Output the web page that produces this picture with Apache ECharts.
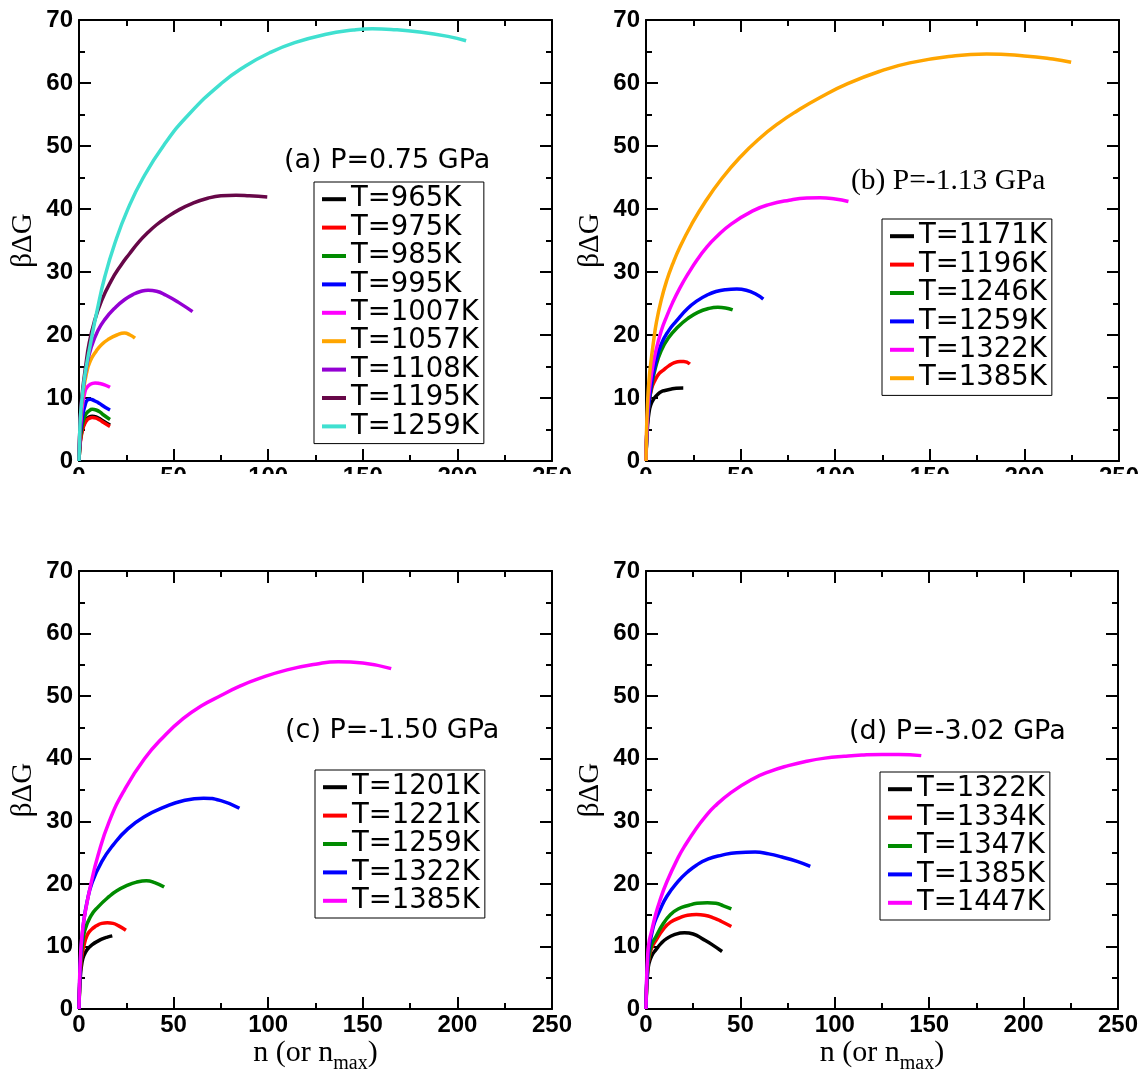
<!DOCTYPE html>
<html>
<head>
<meta charset="utf-8">
<script src="https://cdn.jsdelivr.net/npm/echarts@6/dist/echarts.min.js"></script>
<style>html,body{margin:0;padding:0;background:#fff;}#c{width:1144px;height:1075px;}</style>
</head>
<body>
<div id="c"></div>
<script>
// ---------- DATA ----------
const xTicks = [0, 50, 100, 150, 200, 250];
const yTicks = [0, 10, 20, 30, 40, 50, 60, 70];

const panelTitles = ['(a) P=0.75 GPa', '(b) P=-1.13 GPa', '(c) P=-1.50 GPa', '(d) P=-3.02 GPa'];

// Panel (a)  P=0.75 GPa
const aNames = ['T=965K', 'T=975K', 'T=985K', 'T=995K', 'T=1007K', 'T=1057K', 'T=1108K', 'T=1195K', 'T=1259K'];
const a965 = [[0,0],[0.5,2.5],[1,3.8],[2,5.3],[3,6.1],[4,6.6],[5,6.9],[7,7.1],[9,7.0],[11,6.7],[13,6.3],[16.4,5.7]];
const a975 = [[0,0],[0.5,2.4],[1,3.6],[2,5.1],[3,5.9],[4,6.4],[5,6.7],[7,6.9],[9,6.8],[11,6.5],[13,6.1],[16.4,5.5]];
const a985 = [[0,0],[0.5,2.8],[1,4.3],[2,6.0],[3,7.0],[4,7.6],[5,7.9],[7,8.2],[9,8.1],[11,7.8],[13,7.3],[16.4,6.6]];
const a995 = [[0,0],[0.5,3.5],[1,5.2],[2,7.3],[3,8.6],[4.5,9.7],[6,9.8],[8,9.6],[10,9.3],[12,8.9],[14,8.5],[16.4,8.1]];
const a1007 = [[0,0],[0.5,4.2],[1,6.3],[2,9.2],[3,10.8],[4,11.6],[6,12.2],[8.5,12.4],[11,12.3],[13.5,12.1],[16.4,11.7]];
const a1057 = [[0,0],[0.5,5],[1,7.5],[2,10.5],[4,14],[6,15.9],[9,17.4],[12,18.5],[16,19.4],[20,20.0],[24,20.3],[27,20.0],[29.6,19.5]];
const a1108 = [[0,0],[0.5,5.5],[1,8],[2,11],[4,15],[6.2,17.8],[10,20.7],[14,22.6],[19,24.3],[24,25.6],[29,26.5],[33,26.95],[36.5,27.1],[41,26.95],[46,26.3],[53,25.1],[60,23.7]];
const a1195 = [[0,0],[0.5,5.5],[1,8.3],[2,11.5],[3.5,15],[5.3,18.6],[8,22],[12,25.5],[17,28.6],[22,31],[26.7,32.9],[32,34.9],[36.5,36.3],[41,37.5],[46,38.6],[53,39.9],[60,40.9],[68,41.7],[75,42.1],[83,42.2],[90,42.1],[99.5,41.9]];
const a1259 = [[0,0],[0.5,5.5],[1,8],[1.8,10.5],[3.3,14],[6.5,19.3],[9.5,23.8],[13.6,29.2],[19,34.6],[25.7,39.9],[34,45],[45,50.2],[58,55],[75.5,60],[88,62.7],[100.8,64.8],[114,66.4],[130,67.7],[145,68.4],[155,68.6],[165,68.5],[180,68.1],[195,67.4],[204.6,66.7]];

// Panel (b)  P=-1.13 GPa
const bNames = ['T=1171K', 'T=1196K', 'T=1246K', 'T=1259K', 'T=1322K', 'T=1385K'];
const b1171 = [[0,0],[0.3,3],[0.8,5.5],[1.5,7.5],[2.5,8.9],[4.2,9.9],[6,10.5],[8,11.0],[10,11.2],[13,11.4],[16,11.55],[19.7,11.6]];
const b1196 = [[0,0],[0.3,3.5],[0.8,6.5],[1.5,9],[3,11.5],[4.9,12.9],[7,13.9],[9,14.4],[12,15.1],[15,15.6],[18,15.8],[20,15.8],[23.2,15.4]];
const b1246 = [[0,0],[0.3,3.5],[0.8,6.5],[1.5,9],[3,12],[5,14.8],[8,17.5],[12,19.6],[17,21.3],[22,22.6],[27.4,23.6],[33,24.2],[38,24.4],[42,24.3],[45.8,24.0]];
const b1259 = [[0,0],[0.3,3.5],[0.8,6.5],[1.5,9],[3,12.5],[5,15.5],[8,18.5],[12,20.7],[16,22.2],[22,24.2],[27.4,25.5],[32,26.3],[37,26.9],[42,27.2],[48,27.3],[53,27.1],[58,26.5],[62,25.7]];
const b1322 = [[0,0],[0.3,4],[0.8,7.5],[1.5,10.5],[3,14],[5,17.2],[8,20.6],[11,23.0],[14,25.1],[17.8,27.4],[22,29.6],[27.4,32.1],[32,33.9],[37,35.5],[45,37.6],[56.4,39.7],[65,40.7],[75.7,41.4],[85,41.75],[92,41.8],[100,41.6],[107,41.2]];
const b1385 = [[0,0],[0.3,5],[0.8,9],[1.5,12.5],[2.5,15.5],[4,19],[5.5,22],[8,25.5],[11,28.7],[14,31.2],[18,34],[24,37.5],[31,41],[40,44.8],[50,48.3],[60,51.2],[70,53.6],[80,55.6],[92,57.7],[106.6,59.9],[125,62.0],[139.4,63.2],[160,64.2],[180,64.6],[200,64.3],[215,63.8],[224.7,63.3]];

// Panel (c)  P=-1.50 GPa
const cNames = ['T=1201K', 'T=1221K', 'T=1259K', 'T=1322K', 'T=1385K'];
const c1201 = [[0,0],[0.3,3],[0.8,5.5],[1.5,7.3],[2.5,8.5],[4.3,9.5],[7,10.3],[10.2,10.9],[13,11.3],[15,11.5],[17.6,11.7]];
const c1221 = [[0,0],[0.3,3.5],[0.8,6.5],[1.5,8.5],[2.5,10],[4.3,11.8],[6.5,12.7],[9.2,13.3],[12,13.7],[15,13.8],[18,13.7],[21,13.3],[24.8,12.6]];
const c1259 = [[0,0],[0.3,3.5],[0.8,7],[1.5,9.5],[3,12.5],[6.3,14.9],[10,16.3],[16,18.0],[20,18.9],[25.8,19.8],[30,20.25],[35.6,20.5],[40,20.2],[45,19.5]];
const c1322 = [[0,0],[0.3,4],[0.8,8],[1.5,11],[2.5,14],[4.3,17.2],[7,20.3],[12.1,23.6],[18,26.2],[25.8,28.8],[35,30.8],[45.3,32.3],[55,33.3],[65.9,33.7],[75,33.3],[84.8,32.1]];
const c1385 = [[0,0],[0.3,4.5],[0.8,8.5],[1.5,11.5],[3,15],[6.3,20],[10,24.5],[16,30],[24,35],[34.6,40],[45,43.6],[55,46.4],[65,48.5],[75,50.1],[85,51.6],[95,52.8],[110,54.2],[125,55.1],[137,55.5],[150,55.3],[165,54.4]];

// Panel (d)  P=-3.02 GPa
const dNames = ['T=1322K', 'T=1334K', 'T=1347K', 'T=1385K', 'T=1447K'];
const d1322 = [[0,0],[0.3,3],[0.8,5.5],[1.5,7.2],[3,8.5],[5.3,9.5],[8,10.5],[11.1,11.3],[15,11.9],[20.4,12.2],[25,12.0],[30.6,11.1],[35,10.3],[40.3,9.2]];
const d1334 = [[0,0],[0.3,3.5],[0.8,6],[1.5,8],[3,9.8],[5.3,11],[9,12.7],[13,13.9],[18,14.6],[22,15],[26.7,15.1],[31,15],[36.4,14.5],[40,14],[45.2,13.2]];
const d1347 = [[0,0],[0.3,3.5],[0.8,6.2],[1.5,8.3],[3,10.3],[5.3,11.6],[9,13.6],[13,15.1],[17,16],[22.8,16.6],[27,16.9],[32.5,17.0],[37,16.9],[41,16.5],[45.2,16.0]];
const d1385 = [[0,0],[0.3,4],[0.8,7],[1.5,9.5],[3,12],[4.5,13.8],[7.2,15.7],[11,18],[17,20.4],[22,21.9],[26.7,23.0],[33,24],[40.3,24.6],[48,25],[57.8,25.1],[65,24.8],[72,24.3],[80,23.6],[87,22.8]];
const d1447 = [[0,0],[0.3,4.5],[0.8,8],[1.5,10.5],[3,12.5],[5,15],[7.2,17.2],[11,20.3],[17,24.2],[21,26.3],[26.7,28.9],[31,30.6],[36.4,32.4],[45,34.6],[56,36.7],[65,37.9],[75.4,38.9],[85,39.6],[94.8,40.1],[105,40.4],[114.3,40.6],[125,40.7],[133.8,40.7],[145.8,40.5]];

// ---------- STYLE / LAYOUT ----------
const C = {black:'#000000', red:'#ff0000', green:'#008b00', blue:'#0000ff', magenta:'#ff00ff', orange:'#ffa500', violet:'#9400d3', maroon:'#670748', turq:'#40e0d0'};
const panels = [
  {key:'a', names:aNames, data:[a965,a975,a985,a995,a1007,a1057,a1108,a1195,a1259],
   colors:[C.black,C.red,C.green,C.blue,C.magenta,C.orange,C.violet,C.maroon,C.turq],
   grid:{left:79, top:20, width:473, height:441}, xName:false,
   title:{left:284, top:147, serif:false}, legend:{left:314, top:182}},
  {key:'b', names:bNames, data:[b1171,b1196,b1246,b1259,b1322,b1385],
   colors:[C.black,C.red,C.green,C.blue,C.magenta,C.orange],
   grid:{left:646, top:20, width:473, height:441}, xName:false,
   title:{left:851, top:166, serif:true}, legend:{left:882, top:219}},
  {key:'c', names:cNames, data:[c1201,c1221,c1259,c1322,c1385],
   colors:[C.black,C.red,C.green,C.blue,C.magenta],
   grid:{left:79, top:571, width:473, height:440}, xName:true,
   title:{left:285, top:717, serif:false}, legend:{left:315, top:770}},
  {key:'d', names:dNames, data:[d1322,d1334,d1347,d1385,d1447],
   colors:[C.black,C.red,C.green,C.blue,C.magenta],
   grid:{left:646, top:571, width:472, height:440}, xName:true,
   title:{left:849, top:718, serif:false}, legend:{left:880, top:772}}
];

const SANS = '"Liberation Sans", Arial, Helvetica, sans-serif';
const WIDE = '"DejaVu Sans", "Liberation Sans", sans-serif';
const SERIF = '"Liberation Serif", "Times New Roman", Times, serif';

function xAxisDef(gi, pos, labels, withName) {
  return {
    type:'value', gridIndex:gi, position:pos, min:xTicks[0], max:xTicks[xTicks.length-1], interval:50,
    axisLine:{show:true, onZero:false, lineStyle:{color:'#000', width:2}},
    axisTick:{show:true, inside:true, length:12, lineStyle:{color:'#000', width:2}},
    minorTick:{show:true, splitNumber:2, length:6, lineStyle:{color:'#000', width:2}},
    splitLine:{show:false},
    axisLabel:{show:labels, color:'#000', fontSize:24, fontWeight:'bold', fontFamily:SANS, margin:4},
    name: withName ? '{m|n (or n}{s|max}{m|)}' : '',
    nameLocation:'middle', nameGap:22,
    nameTextStyle:{color:'#000', fontFamily:SERIF, fontSize:30,
      rich:{m:{fontFamily:SERIF, fontSize:30, color:'#000'},
            s:{fontFamily:SERIF, fontSize:20, color:'#000', padding:[22,0,0,0]}}}
  };
}
function yAxisDef(gi, pos, labels) {
  return {
    type:'value', gridIndex:gi, position:pos, min:yTicks[0], max:yTicks[yTicks.length-1], interval:10,
    axisLine:{show:true, onZero:false, lineStyle:{color:'#000', width:2}},
    axisTick:{show:true, inside:true, length:12, lineStyle:{color:'#000', width:2}},
    minorTick:{show:true, splitNumber:2, length:6, lineStyle:{color:'#000', width:2}},
    splitLine:{show:false},
    axisLabel:{show:labels, color:'#000', fontSize:24, fontWeight:'bold', fontFamily:SANS, margin:6},
    name: labels ? 'βΔG' : '', nameLocation:'middle', nameGap:41, nameRotate:90,
    nameTextStyle:{color:'#000', fontFamily:SERIF, fontSize:29}
  };
}

const grids = [], xAxes = [], yAxes = [], series = [], legends = [], titles = [];
panels.forEach((p, gi) => {
  grids.push(Object.assign({containLabel:false}, p.grid));
  xAxes.push(xAxisDef(gi, 'bottom', true, p.xName));
  xAxes.push(xAxisDef(gi, 'top', false, false));
  yAxes.push(yAxisDef(gi, 'left', true));
  yAxes.push(yAxisDef(gi, 'right', false));
  const legendNames = [];
  p.names.forEach((nm, si) => {
    const sname = nm + '|' + p.key;
    legendNames.push(sname);
    series.push({
      type:'line', name:sname, xAxisIndex:gi*2, yAxisIndex:gi*2, data:p.data[si],
      showSymbol:false, symbol:'none', smooth:0.5, clip:true,
      lineStyle:{color:p.colors[si], width:3.5}, itemStyle:{color:p.colors[si]}
    });
  });
  legends.push({
    orient:'vertical', left:p.legend.left, top:p.legend.top, padding:[3,5,3,8],
    itemGap:0, itemWidth:24, itemHeight:4, itemTextGap:13, icon:'rect',
    borderColor:'#000', borderWidth:1, borderRadius:0, backgroundColor:'#fff',
    selectedMode:false, data:legendNames,
    formatter: n => n.split('|')[0],
    textStyle:{color:'#000', fontSize:27.5, lineHeight:28.4, fontFamily:WIDE}
  });
  titles.push({
    text:panelTitles[gi], left:p.title.left, top:p.title.top, padding:0,
    textStyle:{color:'#000', fontWeight:'normal', fontSize: p.title.serif ? 29.5 : 27,
      fontFamily: p.title.serif ? SERIF : WIDE}
  });
});

const chart = echarts.init(document.getElementById('c'), null, {renderer:'canvas'});
chart.setOption({
  backgroundColor:'#fff', animation:false,
  title:titles, grid:grids, xAxis:xAxes, yAxis:yAxes, legend:legends, series:series,
  graphic:[{type:'rect', left:0, top:474, z:100, shape:{width:1144, height:70}, style:{fill:'#fff'}}]
});
</script>
</body>
</html>
